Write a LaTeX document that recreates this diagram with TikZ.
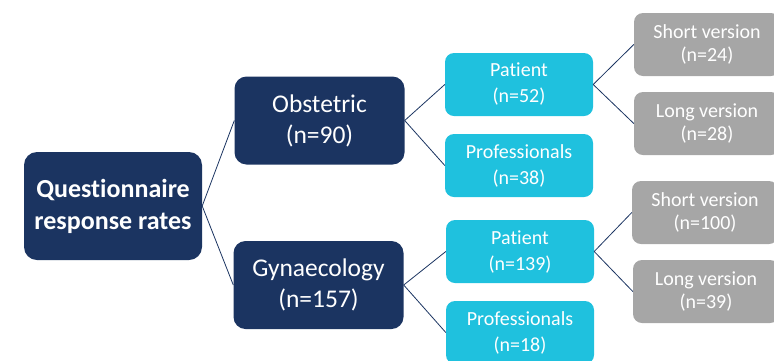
\documentclass[tikz,border=0pt]{standalone}
\usepackage{fontspec}
\setmainfont{Carlito}[Ligatures=NoCommon]
\definecolor{navy}{HTML}{1B3461}
\definecolor{cyanbox}{HTML}{1FC1DE}
\definecolor{graybox}{HTML}{A6A6A6}
\begin{document}
\begin{tikzpicture}[x=1pt,y=-1pt,
  box/.style={rectangle, align=center, text=white, inner sep=0pt},
  rootbox/.style={box, fill=navy, rounded corners=13pt, minimum width=178pt, minimum height=108pt, font=\fontsize{26}{32}\selectfont\bfseries},
  midbox/.style={box, fill=navy, rounded corners=12pt, minimum width=170pt, minimum height=88pt, font=\fontsize{25.5}{31}\selectfont},
  leafbox/.style={box, fill=cyanbox, rounded corners=9pt, minimum width=148pt, minimum height=63pt, font=\fontsize{20}{26}\selectfont},
  graybx/.style={box, fill=graybox, rounded corners=9pt, minimum width=146pt, minimum height=63pt, font=\fontsize{20}{23}\selectfont},
  link/.style={draw=navy, line width=0.8pt}]
\useasboundingbox (0,0) rectangle (774,360);
\node[rootbox] (root) at (113,206) {Questionnaire\\response rates};
\node[midbox] (obs) at (319.5,120.5) {Obstetric\\(n=90)};
\node[midbox] (gyn) at (318.5,285) {Gynaecology\\(n=157)};
\node[leafbox] (pat1) at (519,84.5) {Patient\\(n=52)};
\node[leafbox] (pro1) at (519,165.5) {Professionals\\(n=38)};
\node[leafbox] (pat2) at (520,251.5) {Patient\\(n=139)};
\node[leafbox] (pro2) at (520,332.5) {Professionals\\(n=18)};
\node[graybx] (s1) at (707,44.5) {Short version\\(n=24)};
\node[graybx] (l1) at (707,123.5) {Long version\\(n=28)};
\node[graybx] (s2) at (705,212.5) {Short version\\(n=100)};
\node[graybx] (l2) at (706,291.5) {Long version\\(n=39)};
\draw[link] (root.east) -- (obs.west);
\draw[link] (root.east) -- (gyn.west);
\draw[link] (obs.east) -- (pat1.west);
\draw[link] (obs.east) -- (pro1.west);
\draw[link] (gyn.east) -- (pat2.west);
\draw[link] (gyn.east) -- (pro2.west);
\draw[link] (pat1.east) -- (s1.west);
\draw[link] (pat1.east) -- (l1.west);
\draw[link] (pat2.east) -- (s2.west);
\draw[link] (pat2.east) -- (l2.west);
\end{tikzpicture}
\end{document}
